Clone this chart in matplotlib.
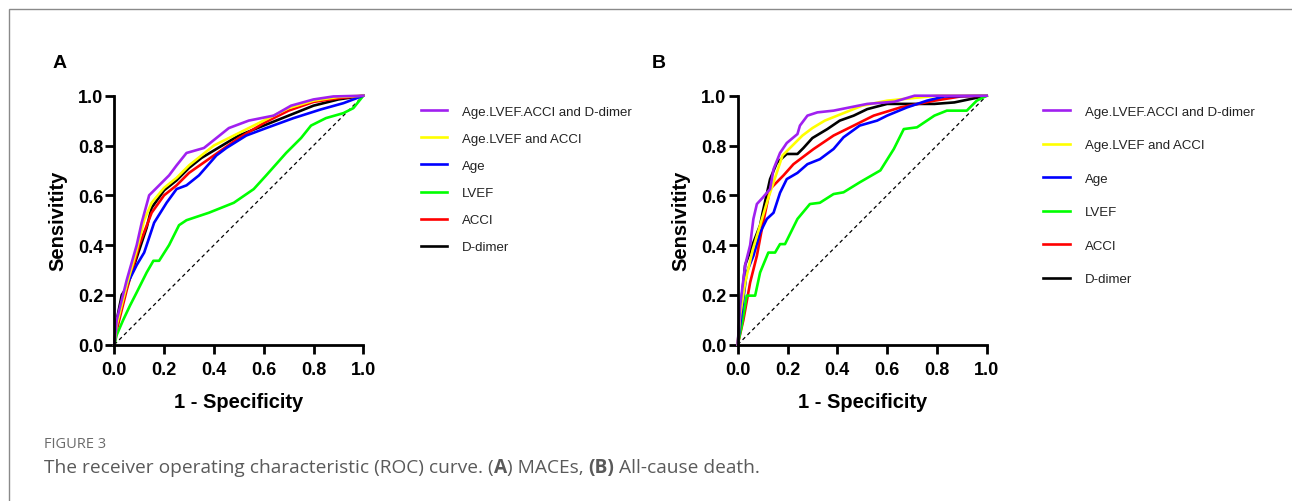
import matplotlib
matplotlib.use("Agg")
import matplotlib.pyplot as plt
from matplotlib.patches import Rectangle

# ---- data ----
labels = ["Age.LVEF.ACCI and D-dimer", "Age.LVEF and ACCI", "Age", "LVEF", "ACCI", "D-dimer"]
colors = ["#A020F0", "#FFFF00", "#0000FF", "#00FF00", "#FF0000", "#000000"]

# panel A (MACEs)
a_combo4_x = [0, 0.01, 0.05, 0.09, 0.11, 0.14, 0.18, 0.22, 0.25, 0.29, 0.36, 0.41, 0.46, 0.54, 0.64, 0.71, 0.80, 0.88, 1.0]
a_combo4_y = [0, 0.10, 0.26, 0.40, 0.49, 0.60, 0.64, 0.68, 0.72, 0.77, 0.79, 0.83, 0.87, 0.90, 0.92, 0.96, 0.985, 0.997, 1.0]
a_combo3_x = [0, 0.01, 0.05, 0.09, 0.12, 0.15, 0.20, 0.25, 0.30, 0.35, 0.40, 0.50, 0.60, 0.70, 0.80, 0.90, 1.0]
a_combo3_y = [0, 0.08, 0.24, 0.38, 0.50, 0.57, 0.63, 0.67, 0.72, 0.76, 0.80, 0.85, 0.90, 0.95, 0.98, 0.995, 1.0]
a_age_x = [0, 0.01, 0.03, 0.05, 0.09, 0.12, 0.16, 0.21, 0.25, 0.29, 0.34, 0.41, 0.45, 0.53, 0.61, 0.72, 0.83, 0.92, 1.0]
a_age_y = [0, 0.08, 0.17, 0.24, 0.32, 0.37, 0.49, 0.57, 0.625, 0.64, 0.68, 0.76, 0.79, 0.84, 0.87, 0.91, 0.945, 0.97, 1.0]
a_lvef_x = [0, 0.01, 0.036, 0.063, 0.09, 0.13, 0.157, 0.18, 0.22, 0.26, 0.29, 0.38, 0.48, 0.56, 0.61, 0.69, 0.75, 0.79, 0.85, 0.92, 0.96, 1.0]
a_lvef_y = [0, 0.04, 0.10, 0.157, 0.21, 0.29, 0.337, 0.337, 0.40, 0.48, 0.50, 0.53, 0.57, 0.625, 0.68, 0.77, 0.83, 0.88, 0.91, 0.93, 0.95, 1.0]
a_acci_x = [0, 0.01, 0.05, 0.10, 0.15, 0.20, 0.25, 0.30, 0.40, 0.50, 0.60, 0.70, 0.80, 0.90, 1.0]
a_acci_y = [0, 0.06, 0.22, 0.40, 0.53, 0.60, 0.64, 0.69, 0.76, 0.83, 0.89, 0.94, 0.975, 0.99, 1.0]
a_ddim_x = [0, 0.01, 0.03, 0.05, 0.10, 0.13, 0.15, 0.20, 0.25, 0.30, 0.35, 0.40, 0.50, 0.60, 0.70, 0.80, 0.90, 1.0]
a_ddim_y = [0, 0.10, 0.20, 0.23, 0.38, 0.47, 0.55, 0.62, 0.66, 0.71, 0.75, 0.78, 0.84, 0.88, 0.92, 0.96, 0.985, 1.0]

# panel B (all-cause death)
b_combo4_x = [0, 0.01, 0.03, 0.05, 0.063, 0.077, 0.10, 0.13, 0.144, 0.17, 0.197, 0.24, 0.25, 0.28, 0.32, 0.385, 0.45, 0.52, 0.63, 0.71, 1.0]
b_combo4_y = [0, 0.157, 0.32, 0.40, 0.505, 0.565, 0.59, 0.625, 0.705, 0.77, 0.81, 0.846, 0.88, 0.92, 0.933, 0.94, 0.953, 0.967, 0.976, 1.0, 1.0]
b_combo3_x = [0, 0.01, 0.03, 0.06, 0.09, 0.12, 0.15, 0.18, 0.22, 0.26, 0.30, 0.35, 0.40, 0.50, 0.60, 0.70, 0.80, 1.0]
b_combo3_y = [0, 0.12, 0.25, 0.38, 0.48, 0.58, 0.67, 0.76, 0.80, 0.84, 0.87, 0.90, 0.92, 0.96, 0.98, 0.99, 1.0, 1.0]
b_age_x = [0, 0.016, 0.036, 0.063, 0.09, 0.117, 0.144, 0.17, 0.197, 0.24, 0.28, 0.33, 0.385, 0.425, 0.49, 0.56, 0.60, 0.68, 0.76, 0.83, 1.0]
b_age_y = [0, 0.13, 0.29, 0.357, 0.45, 0.505, 0.53, 0.61, 0.665, 0.69, 0.725, 0.745, 0.786, 0.833, 0.88, 0.90, 0.92, 0.953, 0.98, 0.997, 1.0]
b_lvef_x = [0, 0.016, 0.036, 0.07, 0.09, 0.123, 0.15, 0.17, 0.19, 0.24, 0.29, 0.33, 0.385, 0.425, 0.49, 0.573, 0.627, 0.667, 0.72, 0.79, 0.84, 0.92, 0.96, 1.0]
b_lvef_y = [0, 0.076, 0.197, 0.197, 0.29, 0.37, 0.37, 0.404, 0.404, 0.505, 0.565, 0.57, 0.605, 0.612, 0.652, 0.70, 0.786, 0.866, 0.873, 0.92, 0.94, 0.94, 0.98, 1.0]
b_acci_x = [0, 0.023, 0.05, 0.077, 0.10, 0.13, 0.184, 0.224, 0.305, 0.385, 0.466, 0.546, 0.654, 0.79, 0.895, 1.0]
b_acci_y = [0, 0.10, 0.25, 0.357, 0.48, 0.625, 0.68, 0.725, 0.786, 0.84, 0.88, 0.92, 0.953, 0.98, 0.997, 1.0]
b_ddim_x = [0, 0.01, 0.03, 0.063, 0.09, 0.10, 0.13, 0.157, 0.197, 0.24, 0.264, 0.30, 0.36, 0.41, 0.466, 0.52, 0.60, 0.79, 0.87, 1.0]
b_ddim_y = [0, 0.13, 0.32, 0.41, 0.48, 0.53, 0.665, 0.73, 0.766, 0.766, 0.79, 0.83, 0.866, 0.90, 0.92, 0.946, 0.967, 0.967, 0.973, 1.0]

panel_a = [(a_combo4_x, a_combo4_y), (a_combo3_x, a_combo3_y), (a_age_x, a_age_y),
           (a_lvef_x, a_lvef_y), (a_acci_x, a_acci_y), (a_ddim_x, a_ddim_y)]
panel_b = [(b_combo4_x, b_combo4_y), (b_combo3_x, b_combo3_y), (b_age_x, b_age_y),
           (b_lvef_x, b_lvef_y), (b_acci_x, b_acci_y), (b_ddim_x, b_ddim_y)]
ticks = [0.0, 0.2, 0.4, 0.6, 0.8, 1.0]

plt.rcParams['font.family'] = ['Liberation Sans', 'DejaVu Sans']

W, H = 1292, 502
fig = plt.figure(figsize=(W / 100, H / 100), dpi=100)

# grey page frame (only top/left visible)
fig.patches.append(Rectangle((9 / W, -0.2), 1.2, 1.2 - 10 / H, transform=fig.transFigure,
                             fill=False, edgecolor="#8a8a8a", linewidth=1.0))


def draw_panel(left, data, letter, letter_x, leg_x, leg_spacing):
    ax = fig.add_axes([left / W, 1 - 345.7 / H, 249 / W, 249 / H])
    ax.plot([0, 1], [0, 1], color="black", linestyle=(0, (3, 2.5)), linewidth=0.9, zorder=1)
    handles = []
    for (xs, ys), c, lab in reversed(list(zip(data, colors, labels))):
        ln, = ax.plot(xs, ys, color=c, linewidth=1.9, label=lab, clip_on=False, zorder=2)
        handles.append(ln)
    handles = handles[::-1]
    ax.set_xlim(0, 1)
    ax.set_ylim(0, 1)
    ax.set_xticks(ticks)
    ax.set_yticks(ticks)
    ax.set_xticklabels([f"{t:.1f}" for t in ticks])
    ax.set_yticklabels([f"{t:.1f}" for t in ticks])
    for s in ["top", "right"]:
        ax.spines[s].set_visible(False)
    for s in ["left", "bottom"]:
        ax.spines[s].set_linewidth(2.0)
    ax.tick_params(direction="out", length=6.5, width=2.0, labelsize=13)
    ax.tick_params(axis="x", pad=5.5)
    ax.tick_params(axis="y", pad=1.5)
    for t in ax.get_xticklabels() + ax.get_yticklabels():
        t.set_fontweight("bold")
    ax.set_xlabel("1 - Specificity", fontsize=14.5, fontweight="bold", labelpad=9.5)
    ax.set_ylabel("Sensivitity", fontsize=14.5, fontweight="bold", labelpad=7.5)
    fig.text(letter_x / W, 1 - 63.5 / H, letter, fontsize=14, fontweight="bold", va="center", ha="left")
    fig.legend(handles=handles, loc="upper left", bbox_to_anchor=(leg_x / W, 1 - 106.5 / H),
               frameon=False, fontsize=9.5, handlelength=2.0, handletextpad=1.15,
               labelspacing=leg_spacing, borderpad=0, borderaxespad=0, labelcolor="#222222")
    return ax


draw_panel(114.3, panel_a, "A", 53, 420.7, 1.13)
draw_panel(737.7, panel_b, "B", 652, 1043.3, 1.61)

# caption
cap_font = ["Open Sans", "DejaVu Sans"]
fig.text(44 / W, 1 - 445 / H, "FIGURE 3", fontsize=10.5, color="#6b6b6b", va="center", family=cap_font)

pieces = [("The receiver operating characteristic (ROC) curve. (", "normal"), ("A", "bold"),
          (") MACEs, ", "normal"), ("(B)", "bold"), (" All-cause death.", "normal")]
renderer = fig.canvas.get_renderer()
x = 44 / W
for txt, wt in pieces:
    t = fig.text(x, 1 - 468 / H, txt, fontsize=13.8, color="#5a5a5a", fontweight=wt, va="center",
                 family=cap_font)
    bb = t.get_window_extent(renderer=renderer)
    x += bb.width / W

fig.savefig("out.png", dpi=100)
